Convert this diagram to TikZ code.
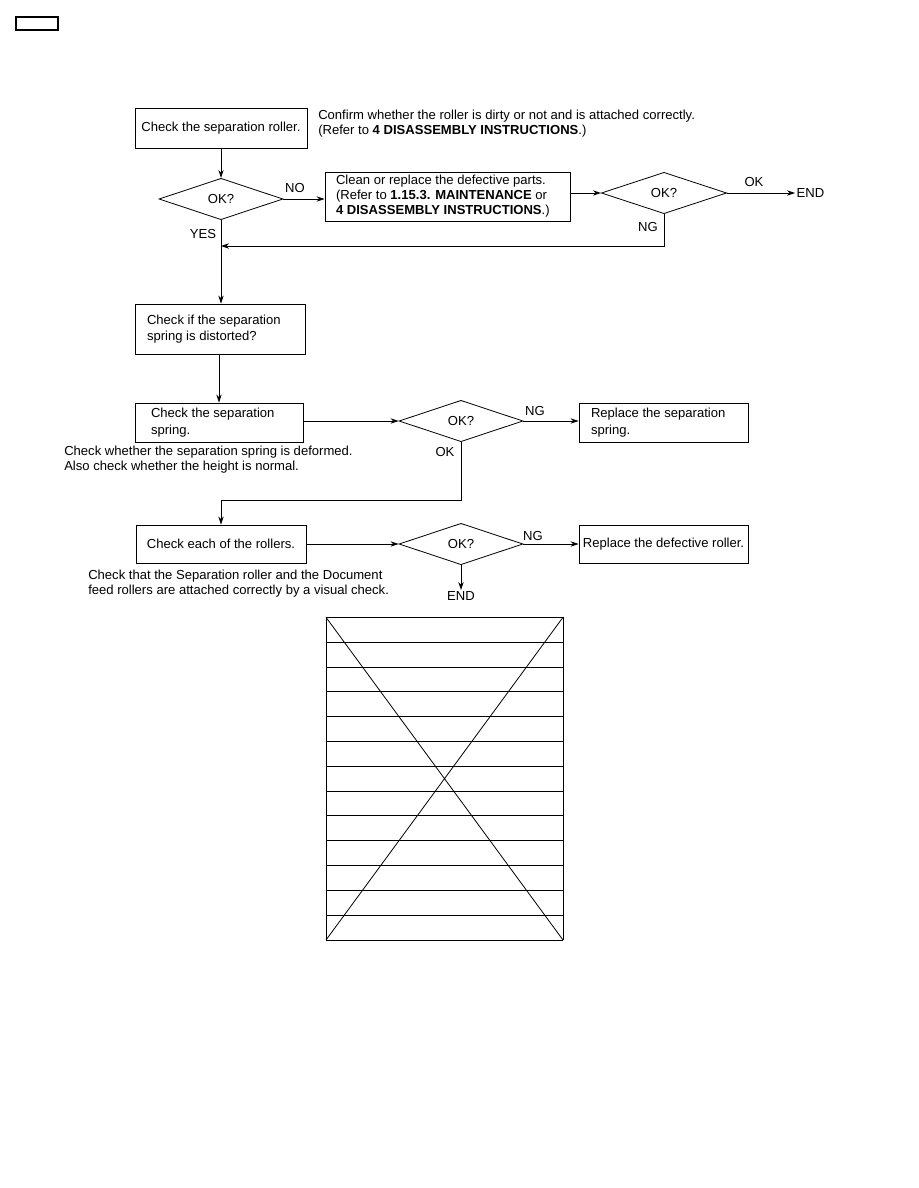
\documentclass[tikz,border=0pt]{standalone}
\usepackage{fontspec}
\setmainfont{Liberation Sans}
\usetikzlibrary{shapes.geometric, arrows.meta, positioning}

\tikzset{
  stepbox/.style={draw, line width=0.6pt, inner xsep=9pt, inner ysep=2pt, align=flush left},
  widebox/.style={stepbox, font=\fontsize{9.8}{12.4}\selectfont},
  okdiamond/.style={draw, diamond, line width=0.6pt, inner sep=0pt, minimum width=93pt, minimum height=31pt},
  flow/.style={-{Stealth[length=6pt,width=4pt]}, line width=0.6pt},
  plain/.style={line width=0.6pt},
  note/.style={anchor=west, align=flush left, inner sep=0pt},
  tag/.style={inner sep=1pt}
}

\begin{document}
\begin{tikzpicture}[x=0.75pt, y=-0.75pt, font=\fontsize{9.8}{11.2}\selectfont]
    \useasboundingbox (0,0) rectangle (918,1188);

    % Page tab
    \draw[line width=0.9pt] (16,17) rectangle (58,30);

    % Separation roller
    \node[stepbox, inner xsep=4.5pt, minimum width=129pt, minimum height=30pt, align=center] (roller) at (221,128) {Check the separation roller.};
    \node[note] (rollernote) at (318,123.5) {Confirm whether the roller is dirty or not and is attached correctly.\\(Refer to \textbf{4 DISASSEMBLY INSTRUCTIONS}.)};

    \node[okdiamond] (ok1) at (221,199) {OK?};
    \node[stepbox, inner xsep=8.25pt, text width=167.25pt, minimum height=36.75pt] (clean) at (447.5,196.5) {Clean or replace the defective parts.\\(Refer to \textbf{1.15.3. MAINTENANCE} or\\\textbf{4 DISASSEMBLY INSTRUCTIONS}.)};
    \node[okdiamond, minimum width=94pt] (ok2) at (664,193) {OK?};
    \node[tag, anchor=west] (end1) at (795,193) {END};
    \coordinate (join1) at (221,246);

    % Separation spring
    \node[widebox, text width=109.5pt, minimum height=37.5pt] (distort) at (220,329) {Check if the separation\\spring is distorted?};
    \node[widebox, inner xsep=12pt, text width=102pt, minimum height=29.25pt] (spring) at (219,422.5) {Check the separation\\spring.};
    \node[note] (springnote) at (64,459.5) {Check whether the separation spring is deformed.\\Also check whether the height is normal.};
    \node[okdiamond] (ok3) at (461,421) {OK?};
    \node[widebox, text width=108.75pt, minimum height=29.25pt] (replspring) at (663.5,422.5) {Replace the separation\\spring.};
    \coordinate (turn3) at (461,500);

    % Rollers
    \node[stepbox, inner xsep=4.5pt, minimum width=127.5pt, minimum height=28.5pt, align=center] (rollers) at (221,544) {Check each of the rollers.};
    \node[note] (rollersnote) at (88,584) {Check that the Separation roller and the Document\\feed rollers are attached correctly by a visual check.};
    \node[okdiamond] (ok4) at (461,544) {OK?};
    \node[stepbox, inner xsep=2pt, minimum width=126.75pt, minimum height=28.5pt, align=center] (replroller) at (663.5,544) {Replace the defective roller.};
    \node[tag, anchor=north] (end2) at (461,590) {END};

    % Labels
    \node[tag] at (295,188) {NO};
    \node[tag] at (203,234) {YES};
    \node[tag] at (754,182) {OK};
    \node[tag] at (648,227) {NG};
    \node[tag] at (535,411) {NG};
    \node[tag] at (445,452) {OK};
    \node[tag] at (533,536) {NG};

    % Connectors
    \draw[flow] (roller) -- (ok1);
    \draw[flow] (ok1.east) -- (ok1.east -| clean.west);
    \draw[flow] (ok2.west -| clean.east) -- (ok2.west);
    \draw[flow] (ok2.east) -- (end1.west);
    \draw[flow] (ok2.south) |- (join1);
    \draw[flow] (ok1.south) -- (ok1.south |- distort.north);
    \draw[flow] (distort.south -| spring.north) -- (spring.north);
    \draw[flow] (spring.east |- ok3.west) -- (ok3.west);
    \draw[flow] (ok3.east) -- (ok3.east -| replspring.west);
    \draw[flow] (ok3.south) -- (turn3) -| (rollers.north);
    \draw[flow] (rollers) -- (ok4);
    \draw[flow] (ok4) -- (replroller);
    \draw[flow] (ok4.south) -- (end2.north);

    % Crossed-out table
    \foreach \i in {0,...,13}
      \draw[plain] (326,617.3+\i*24.82) -- (563,617.3+\i*24.82);
    \draw[plain] (326,617.3) -- (326,940) (563,617.3) -- (563,940);
    \draw[plain] (326,617.3) -- (563,940) (563,617.3) -- (326,940);
\end{tikzpicture}
\end{document}
